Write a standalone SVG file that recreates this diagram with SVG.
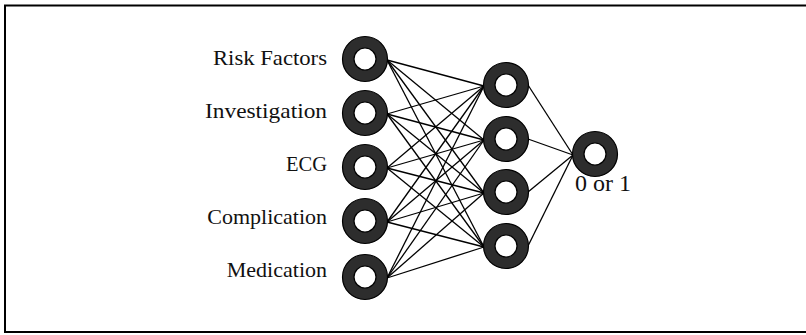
<svg xmlns="http://www.w3.org/2000/svg" width="806" height="335" viewBox="0 0 806 335">
<defs>
<style>
.lbl{font-family:"Liberation Serif","Times New Roman",serif;font-size:22px;fill:#111}
.ring{fill:#fff;stroke:#2d2d2d;stroke-width:11.5}
.out{fill:none;stroke:#000;stroke-width:1.2}
.conn line{stroke:#000;stroke-width:1.3}
</style>
<g id="neuron">
<circle r="16.8" class="ring"/>
<circle r="22.5" class="out"/>
<circle r="11" class="out"/>
</g>
</defs>
<rect width="806" height="335" fill="#fff"/>
<rect x="5" y="5.5" width="820" height="326.5" fill="none" stroke="#000" stroke-width="2"/>
<g id="connectors" class="conn">
<line x1="387" y1="60" x2="484" y2="86"/><line x1="387" y1="60" x2="484" y2="140"/><line x1="387" y1="60" x2="484" y2="193"/><line x1="387" y1="60" x2="484" y2="247"/>
<line x1="387" y1="114" x2="484" y2="86"/><line x1="387" y1="114" x2="484" y2="140"/><line x1="387" y1="114" x2="484" y2="193"/><line x1="387" y1="114" x2="484" y2="247"/>
<line x1="387" y1="168" x2="484" y2="86"/><line x1="387" y1="168" x2="484" y2="140"/><line x1="387" y1="168" x2="484" y2="193"/><line x1="387" y1="168" x2="484" y2="247"/>
<line x1="387" y1="222" x2="484" y2="86"/><line x1="387" y1="222" x2="484" y2="140"/><line x1="387" y1="222" x2="484" y2="193"/><line x1="387" y1="222" x2="484" y2="247"/>
<line x1="387" y1="278" x2="484" y2="86"/><line x1="387" y1="278" x2="484" y2="140"/><line x1="387" y1="278" x2="484" y2="193"/><line x1="387" y1="278" x2="484" y2="247"/>
<line x1="528" y1="85" x2="573" y2="155"/><line x1="528" y1="139" x2="573" y2="155"/><line x1="528" y1="192" x2="573" y2="155"/><line x1="528" y1="246" x2="573" y2="155"/>
</g>
<g id="in1"><use href="#neuron" x="365" y="59"/><text class="lbl" x="327" y="65" text-anchor="end" textLength="114" lengthAdjust="spacingAndGlyphs">Risk Factors</text></g>
<g id="in2"><use href="#neuron" x="365" y="113"/><text class="lbl" x="327" y="118" text-anchor="end" textLength="122" lengthAdjust="spacingAndGlyphs">Investigation</text></g>
<g id="in3"><use href="#neuron" x="365" y="167"/><text class="lbl" x="327" y="171" text-anchor="end" textLength="41" lengthAdjust="spacingAndGlyphs">ECG</text></g>
<g id="in4"><use href="#neuron" x="365" y="221"/><text class="lbl" x="327" y="224" text-anchor="end">Complication</text></g>
<g id="in5"><use href="#neuron" x="365" y="277"/><text class="lbl" x="327" y="277" text-anchor="end">Medication</text></g>
<g id="h1"><use href="#neuron" x="506" y="85"/></g>
<g id="h2"><use href="#neuron" x="506" y="139"/></g>
<g id="h3"><use href="#neuron" x="506" y="192"/></g>
<g id="h4"><use href="#neuron" x="506" y="246"/></g>
<g id="out"><use href="#neuron" x="595" y="154"/><text class="lbl" x="575" y="191" style="font-size:24px">0 or 1</text></g>
</svg>
